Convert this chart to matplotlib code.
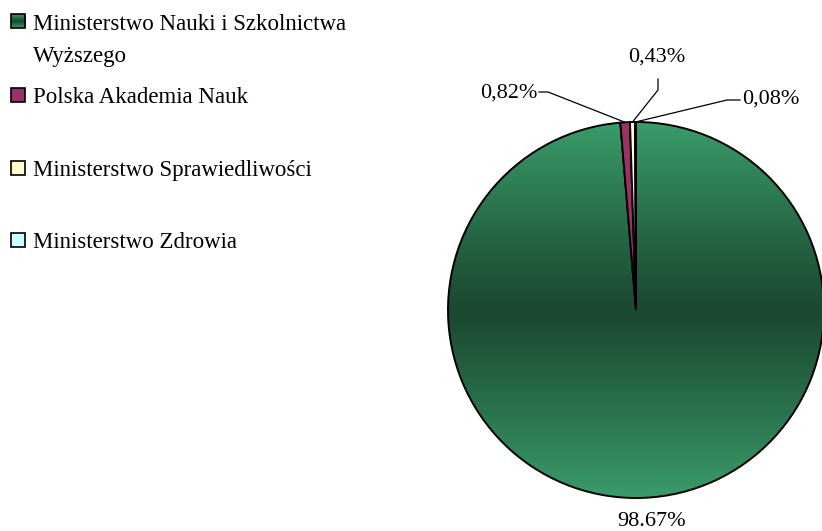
import matplotlib.pyplot as plt
import numpy as np
from matplotlib.patches import Rectangle

plt.rcParams['font.family'] = ['Liberation Serif', 'DejaVu Serif']

# Data
labels = ['Ministerstwo Nauki i Szkolnictwa\nWyższego', 'Polska Akademia Nauk',
          'Ministerstwo Sprawiedliwości', 'Ministerstwo Zdrowia']
shares = [98.67, 0.82, 0.43, 0.08]
pct_text = ['98.67%', '0,82%', '0,43%', '0,08%']
colors = ['#339966', '#993366', '#ffffcc', '#ccffff']

W, H = 822, 531
fig = plt.figure(figsize=(W / 100, H / 100), dpi=100)
ax = fig.add_axes([0, 0, 1, 1])

cx, cy, r = 636, H - 310, 188
wedges, _ = ax.pie(shares, colors=colors, startangle=90, counterclock=False,
                   center=(cx, cy), radius=r, frame=True,
                   wedgeprops=dict(edgecolor='black', linewidth=1.4))
ax.set_aspect('auto')
ax.axis('off')

# green gradient (light at top/bottom, dark in the middle)
light = np.array([0x3a, 0x9c, 0x6a]) / 255
dark = np.array([0x1b, 0x48, 0x31]) / 255
t = np.abs(np.linspace(-1, 1, 256))[:, None, None] ** 1.1
grad = dark + (light - dark) * t
grad = np.repeat(grad, 2, axis=1)
im = ax.imshow(grad, extent=(cx - r, cx + r, cy - r, cy + r), aspect='auto',
               zorder=wedges[0].get_zorder() - 0.1, origin='lower')
im.set_clip_path(wedges[0])
wedges[0].set_facecolor('none')

# labels with leader lines
def anchor(w):
    ang = np.deg2rad((w.theta1 + w.theta2) / 2)
    return cx + r * np.cos(ang), cy + r * np.sin(ang)

fs = 16
ax.text(652, H - 521, pct_text[0], ha='center', va='center', fontsize=fs)

x, y = anchor(wedges[1])
ax.text(537, H - 93, pct_text[1], ha='right', va='center', fontsize=fs)
ax.plot([539, 548, x], [H - 92, H - 92, y], color='black', lw=0.9)

x, y = anchor(wedges[2])
ax.text(657, H - 57, pct_text[2], ha='center', va='center', fontsize=fs)
ax.plot([658, 658, x], [H - 79, H - 90, y], color='black', lw=0.9)

x, y = anchor(wedges[3])
ax.text(742, H - 99, pct_text[3], ha='left', va='center', fontsize=fs)
ax.plot([740, 727, x], [H - 100, H - 100, y], color='black', lw=0.9)

# legend
box_top = [14, 88, 161, 233]
baselines = [30, 103, 176, 248]
for i, lab in enumerate(labels):
    y0 = H - box_top[i] - 14
    if i == 0:
        ax.imshow(grad, extent=(11, 25, y0, y0 + 14), aspect='auto', origin='lower', zorder=3)
        ax.add_patch(Rectangle((11, y0), 14, 14, facecolor='none', edgecolor='black', lw=1.2, zorder=4))
    else:
        ax.add_patch(Rectangle((11, y0), 14, 14, facecolor=colors[i], edgecolor='black', lw=1.2, zorder=4))
    for j, line in enumerate(lab.split('\n')):
        ax.text(33, H - baselines[i] - 32 * j, line, ha='left', va='baseline', fontsize=16.5)

ax.set_xlim(0, W)
ax.set_ylim(0, H)

fig.savefig('out.png', dpi=100)
